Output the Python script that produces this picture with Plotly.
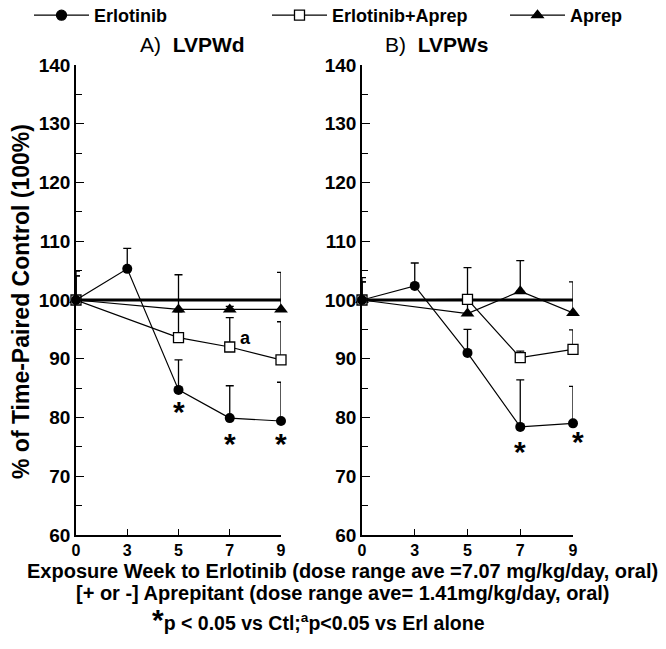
import plotly.graph_objects as go

weeks = ["0", "3", "5", "7", "9"]

# Panel A: LVPWd
a_erl = [100, 105.3, 84.7, 79.9, 79.4]
a_erl_err = [4.9, 3.5, 5.1, 5.5, 6.6]
a_combo = [100, None, 93.6, 92.0, 89.8]
a_combo_err = [4.1, 0, 4.4, 5.0, 6.5]
a_aprep = [100, None, 98.4, 98.4, 98.4]
a_aprep_err = [4.1, 0, 5.9, 0.5, 6.3]
a_ctl = [100, 100, 100, 100, 100]

# Panel B: LVPWs
b_erl = [100, 102.4, 91.0, 78.4, 79.0]
b_erl_err = [3.8, 3.9, 4.0, 8.0, 6.3]
b_combo = [100, None, 100.1, 90.2, 91.6]
b_combo_err = [3.1, 0, 5.4, 1.1, 3.3]
b_aprep = [100, None, 97.7, 101.5, 97.8]
b_aprep_err = [3.1, 0, 3.0, 5.2, 5.3]
b_ctl = [100, 100, 100, 100, 100]

# significance labels: (panel, week, y)
stars = [("A", "5", 81.0), ("A", "7", 75.6), ("A", "9", 75.6),
         ("B", "7", 74.2), ("B", "9", 76.0)]
letters = [("A", "7", 93.5, "a")]

FONT = "Liberation Sans, Arial, sans-serif"

fig = go.Figure()

def add_panel(xa, ya, erl, erl_err, combo, combo_err, aprep, aprep_err, ctl):
    fig.add_trace(go.Scatter(x=weeks, y=ctl, mode="lines", line=dict(color="black", width=3),
                             showlegend=False, xaxis=xa, yaxis=ya, cliponaxis=False, hoverinfo="skip"))
    fig.add_trace(go.Scatter(
        x=weeks, y=aprep, mode="lines+markers", name="Aprep", connectgaps=True,
        line=dict(color="black", width=1.2),
        marker=dict(symbol="triangle-up", size=12, color="black"),
        error_y=dict(type="data", array=aprep_err, arrayminus=[0]*5, symmetric=False,
                     color="black", thickness=1.3, width=4),
        showlegend=False, xaxis=xa, yaxis=ya, cliponaxis=False))
    fig.add_trace(go.Scatter(
        x=weeks, y=combo, mode="lines+markers", name="Erlotinib+Aprep", connectgaps=True,
        line=dict(color="black", width=1.2),
        marker=dict(symbol="square", size=10, color="white", line=dict(color="black", width=1.3)),
        error_y=dict(type="data", array=combo_err, arrayminus=[0]*5, symmetric=False,
                     color="black", thickness=1.3, width=4),
        showlegend=False, xaxis=xa, yaxis=ya, cliponaxis=False))
    fig.add_trace(go.Scatter(
        x=weeks, y=erl, mode="lines+markers", name="Erlotinib",
        line=dict(color="black", width=1.2),
        marker=dict(symbol="circle", size=10, color="black"),
        error_y=dict(type="data", array=erl_err, arrayminus=[0]*5, symmetric=False,
                     color="black", thickness=1.3, width=4),
        showlegend=False, xaxis=xa, yaxis=ya, cliponaxis=False))

add_panel("x", "y", a_erl, a_erl_err, a_combo, a_combo_err, a_aprep, a_aprep_err, a_ctl)
add_panel("x2", "y2", b_erl, b_erl_err, b_combo, b_combo_err, b_aprep, b_aprep_err, b_ctl)

# Legend entries (one legend each so they can be placed like the reference)
for nm, sym, fill, lg in [("Erlotinib", "circle", "black", "legend"),
                          ("Erlotinib+Aprep", "square", "white", "legend2"),
                          ("Aprep", "triangle-up", "black", "legend3")]:
    fig.add_trace(go.Scatter(x=[None], y=[None], mode="lines+markers", name=nm,
                             line=dict(color="black", width=1.2),
                             marker=dict(symbol=sym, size=10, color=fill, line=dict(color="black", width=1.3)),
                             xaxis="x", yaxis="y", legend=lg, showlegend=True))

xcommon = dict(type="category", range=[0, 4], showline=True, linecolor="black", linewidth=1.5,
               ticks="inside", ticklen=6, tickcolor="black", showgrid=False, zeroline=False,
               tickfont=dict(family=FONT, size=16, color="black", weight="bold"), fixedrange=True)
ycommon = dict(range=[60, 140], dtick=10, showline=True, linecolor="black", linewidth=1.5,
               ticks="inside", ticklen=8, tickcolor="black", showgrid=False, zeroline=False,
               minor=dict(dtick=5, ticks="inside", ticklen=6, tickcolor="black"),
               tickfont=dict(family=FONT, size=19, color="black", weight="bold"), fixedrange=True)

legfont = dict(family=FONT, size=18, color="black", weight="bold")
def leg(xpx):
    return dict(x=xpx/666, y=1 + 3/649, xanchor="left", yanchor="top", itemwidth=55,
                font=legfont, bgcolor="rgba(0,0,0,0)", orientation="v")

y0 = (649 - 535) / 649
y1 = (649 - 65) / 649
fig.update_layout(
    width=666, height=649, margin=dict(l=0, r=0, t=0, b=0, autoexpand=False),
    paper_bgcolor="white", plot_bgcolor="white",
    font=dict(family=FONT, color="black"),
    xaxis=dict(domain=[76/666, 281/666], anchor="y", **xcommon),
    yaxis=dict(domain=[y0, y1], anchor="x", **ycommon),
    xaxis2=dict(domain=[362/666, 573/666], anchor="y2", **xcommon),
    yaxis2=dict(domain=[y0, y1], anchor="x2", **ycommon),
    legend=leg(29), legend2=leg(267), legend3=leg(505),
    showlegend=True,
)

ann = []
def txt(text, x, y, size, xref="paper", yref="paper", xanchor="center", yanchor="middle", weight="bold", angle=0, xshift=0):
    ann.append(dict(text=text, x=x, y=y, xref=xref, yref=yref, xanchor=xanchor, yanchor=yanchor,
                    showarrow=False, textangle=angle, xshift=xshift,
                    font=dict(family=FONT, size=size, color="black", weight=weight)))

# Panel titles
txt("A)  <b>LVPWd</b>", 138/666, 1 - 45/649, 21, xanchor="left", weight="normal")
txt("B)  <b>LVPWs</b>", 383/666, 1 - 45/649, 21, xanchor="left", weight="normal")
# y title
txt("% of Time-Paired Control (100%)", 21/666, 1 - 302/649, 23, angle=-90)
# x titles
txt("Exposure Week to Erlotinib (dose range ave =7.07 mg/kg/day, oral)", 342/666, 1 - 571/649, 20)
txt("[+ or -] Aprepitant (dose range ave= 1.41mg/kg/day, oral)", 342/666, 1 - 593/649, 20)
txt("<span style='font-size:30px'>*</span>p < 0.05 vs Ctl;<sup>a</sup>p<0.05 vs Erl alone", 318/666, 1 - 619/649, 19.5)

axes = {"A": ("x", "y"), "B": ("x2", "y2")}
for panel, wk, yv in stars:
    xr, yr = axes[panel]
    txt("*", weeks.index(wk), yv, 30, xref=xr, yref=yr, xshift=(5 if (panel == "B" and wk == "9") else 0))
for panel, wk, yv, s in letters:
    xr, yr = axes[panel]
    txt(s, weeks.index(wk), yv, 18, xref=xr, yref=yr, xanchor="left", xshift=8)

fig.update_layout(annotations=ann)
fig.write_html("out.html", config={"displayModeBar": False},
               post_script="document.body.style.margin='0px';")
